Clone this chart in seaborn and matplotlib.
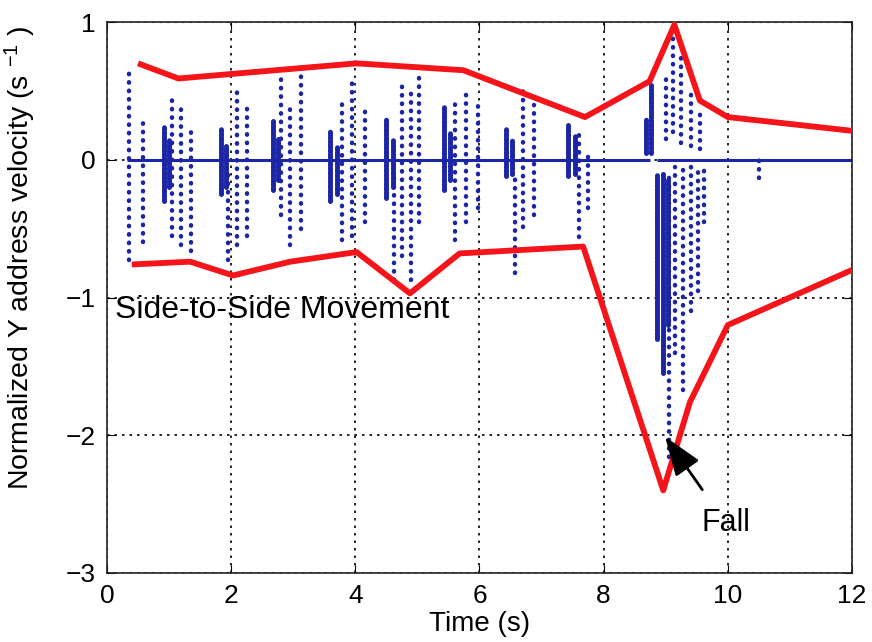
import numpy as np
import matplotlib
matplotlib.use("Agg")
import matplotlib.pyplot as plt
import seaborn as sns
import pandas as pd

# upper / lower envelope of the normalized velocity
upper_t = [0.50, 1.15, 4.02, 5.74, 7.70, 8.74, 9.14, 9.55, 10.0, 12.0]
upper_v = [0.70, 0.59, 0.70, 0.65, 0.31, 0.57, 0.98, 0.43, 0.31, 0.21]
lower_t = [0.40, 1.34, 2.03, 2.95, 4.02, 4.88, 5.68, 7.67, 8.96, 9.39, 10.0, 12.0]
lower_v = [-0.76, -0.74, -0.84, -0.74, -0.67, -0.97, -0.68, -0.63, -2.40, -1.76, -1.20, -0.80]

# dense cores of each burst of events (time, low, high)
core_t = [0.92, 1.00, 1.84, 1.92, 2.68, 2.76, 3.60, 3.70, 4.50, 4.60,
          5.43, 5.53, 6.43, 6.53, 7.42, 7.54, 8.68, 8.76, 8.86, 8.96, 9.04]
core_lo = [-0.30, -0.20, -0.25, -0.20, -0.22, -0.15, -0.30, -0.25, -0.28, -0.20,
           -0.22, -0.15, -0.12, -0.10, -0.12, -0.10, 0.05, 0.05, -1.30, -1.55, -1.20]
core_hi = [0.25, 0.15, 0.23, 0.10, 0.28, 0.15, 0.22, 0.10, 0.31, 0.15,
           0.38, 0.20, 0.23, 0.15, 0.25, 0.18, 0.30, 0.54, -0.10, -0.10, -0.15]

# sparser strands fanning out of each burst (time, low, high)
strand_t = [0.36, 0.58, 1.05, 1.20, 1.35, 1.95, 2.10, 2.25, 2.80, 2.95, 3.12,
            3.78, 3.95, 4.15, 4.62, 4.75, 4.90, 5.02, 5.60, 5.78, 5.98,
            6.58, 6.70, 6.88, 7.60, 7.75,
            9.00, 9.12, 9.25, 9.40, 9.55,
            9.05, 9.15, 9.28, 9.40, 9.52, 9.62, 10.5]
strand_lo = [-0.73, -0.60, -0.55, -0.62, -0.66, -0.73, -0.62, -0.55, -0.40, -0.62, -0.50,
             -0.58, -0.55, -0.45, -0.87, -0.70, -0.87, -0.45, -0.58, -0.45, -0.35,
             -0.82, -0.49, -0.40, -0.56, -0.35,
             0.15, 0.20, 0.12, 0.10, 0.08,
             -2.16, -1.40, -1.67, -1.10, -0.95, -0.45, -0.13]
strand_hi = [0.66, 0.32, 0.45, 0.40, 0.25, -0.10, 0.52, 0.40, 0.63, 0.40, 0.63,
             0.45, 0.61, 0.40, -0.10, 0.55, 0.50, 0.61, 0.45, 0.52, 0.42,
             -0.10, 0.54, 0.40, 0.18, 0.05,
             0.60, 0.98, 0.75, 0.50, 0.37,
             -0.10, -0.05, -0.05, -0.05, -0.05, -0.05, 0.0]

# stretches of the zero-velocity baseline
base_start = [0.32, 8.86]
base_end = [8.74, 12.0]

blue = "#1b25a6"

plt.rcParams.update({"font.family": ["Liberation Sans", "DejaVu Sans"],
                     "mathtext.fontset": "custom",
                     "mathtext.rm": "Liberation Sans",
                     "mathtext.it": "Liberation Sans",
                     "axes.unicode_minus": True})

fig = plt.figure(figsize=(8.72, 6.42), dpi=100)
ax = fig.add_axes([0.1227, 0.1075, 0.8543, 0.8582])

# baseline
ax.hlines([0] * len(base_start), base_start, base_end, color=blue, linewidth=2.2, zorder=2)

# dense cores
cores = ax.vlines(core_t, core_lo, core_hi, color=blue, linewidth=3.6,
                  linestyles=[(0, (0.35, 0.55))], zorder=2)
cores.set_capstyle("round")

# sparse strands
strands = ax.vlines(strand_t, strand_lo, strand_hi, color=blue, linewidth=3.2,
                    linestyles=[(0, (0.1, 1.8))], zorder=2)
strands.set_capstyle("round")

env = pd.DataFrame({"t": upper_t + lower_t,
                    "v": upper_v + lower_v,
                    "side": ["upper"] * len(upper_t) + ["lower"] * len(lower_t)})
sns.lineplot(data=env, x="t", y="v", units="side", estimator=None, sort=False,
             color="#f5141a", linewidth=4.2, ax=ax, zorder=3,
             solid_joinstyle="round", solid_capstyle="butt")

ax.set_xlim(0, 12)
ax.set_ylim(-3, 1)
ax.set_xticks(range(0, 13, 2))
ax.set_yticks([-3, -2, -1, 0, 1])
ax.grid(True, color="black", linestyle=(0, (1.5, 3)), linewidth=1.2)
ax.tick_params(direction="in", top=True, right=True, labelsize=19, length=6, pad=8)
for s in ax.spines.values():
    s.set_linewidth(1.2)
    s.set_color("#222222")

ax.set_xlabel("Time (s)", fontsize=20, labelpad=2)
ax.set_ylabel(r"Normalized Y address velocity (s $^{-1}$ )", fontsize=20.5)
ax.yaxis.set_label_coords(-0.092, 0.572)

ax.text(0.13, -1.09, "Side-to-Side Movement", fontsize=23, va="center", ha="left")
ax.annotate("Fall", xy=(8.99, -2.01), xytext=(9.97, -2.64), fontsize=22,
            ha="center", va="center",
            arrowprops=dict(arrowstyle="-|>,head_length=1.1,head_width=0.4",
                            color="black", lw=2, shrinkA=14, shrinkB=0))

fig.savefig("out.png", dpi=100)
